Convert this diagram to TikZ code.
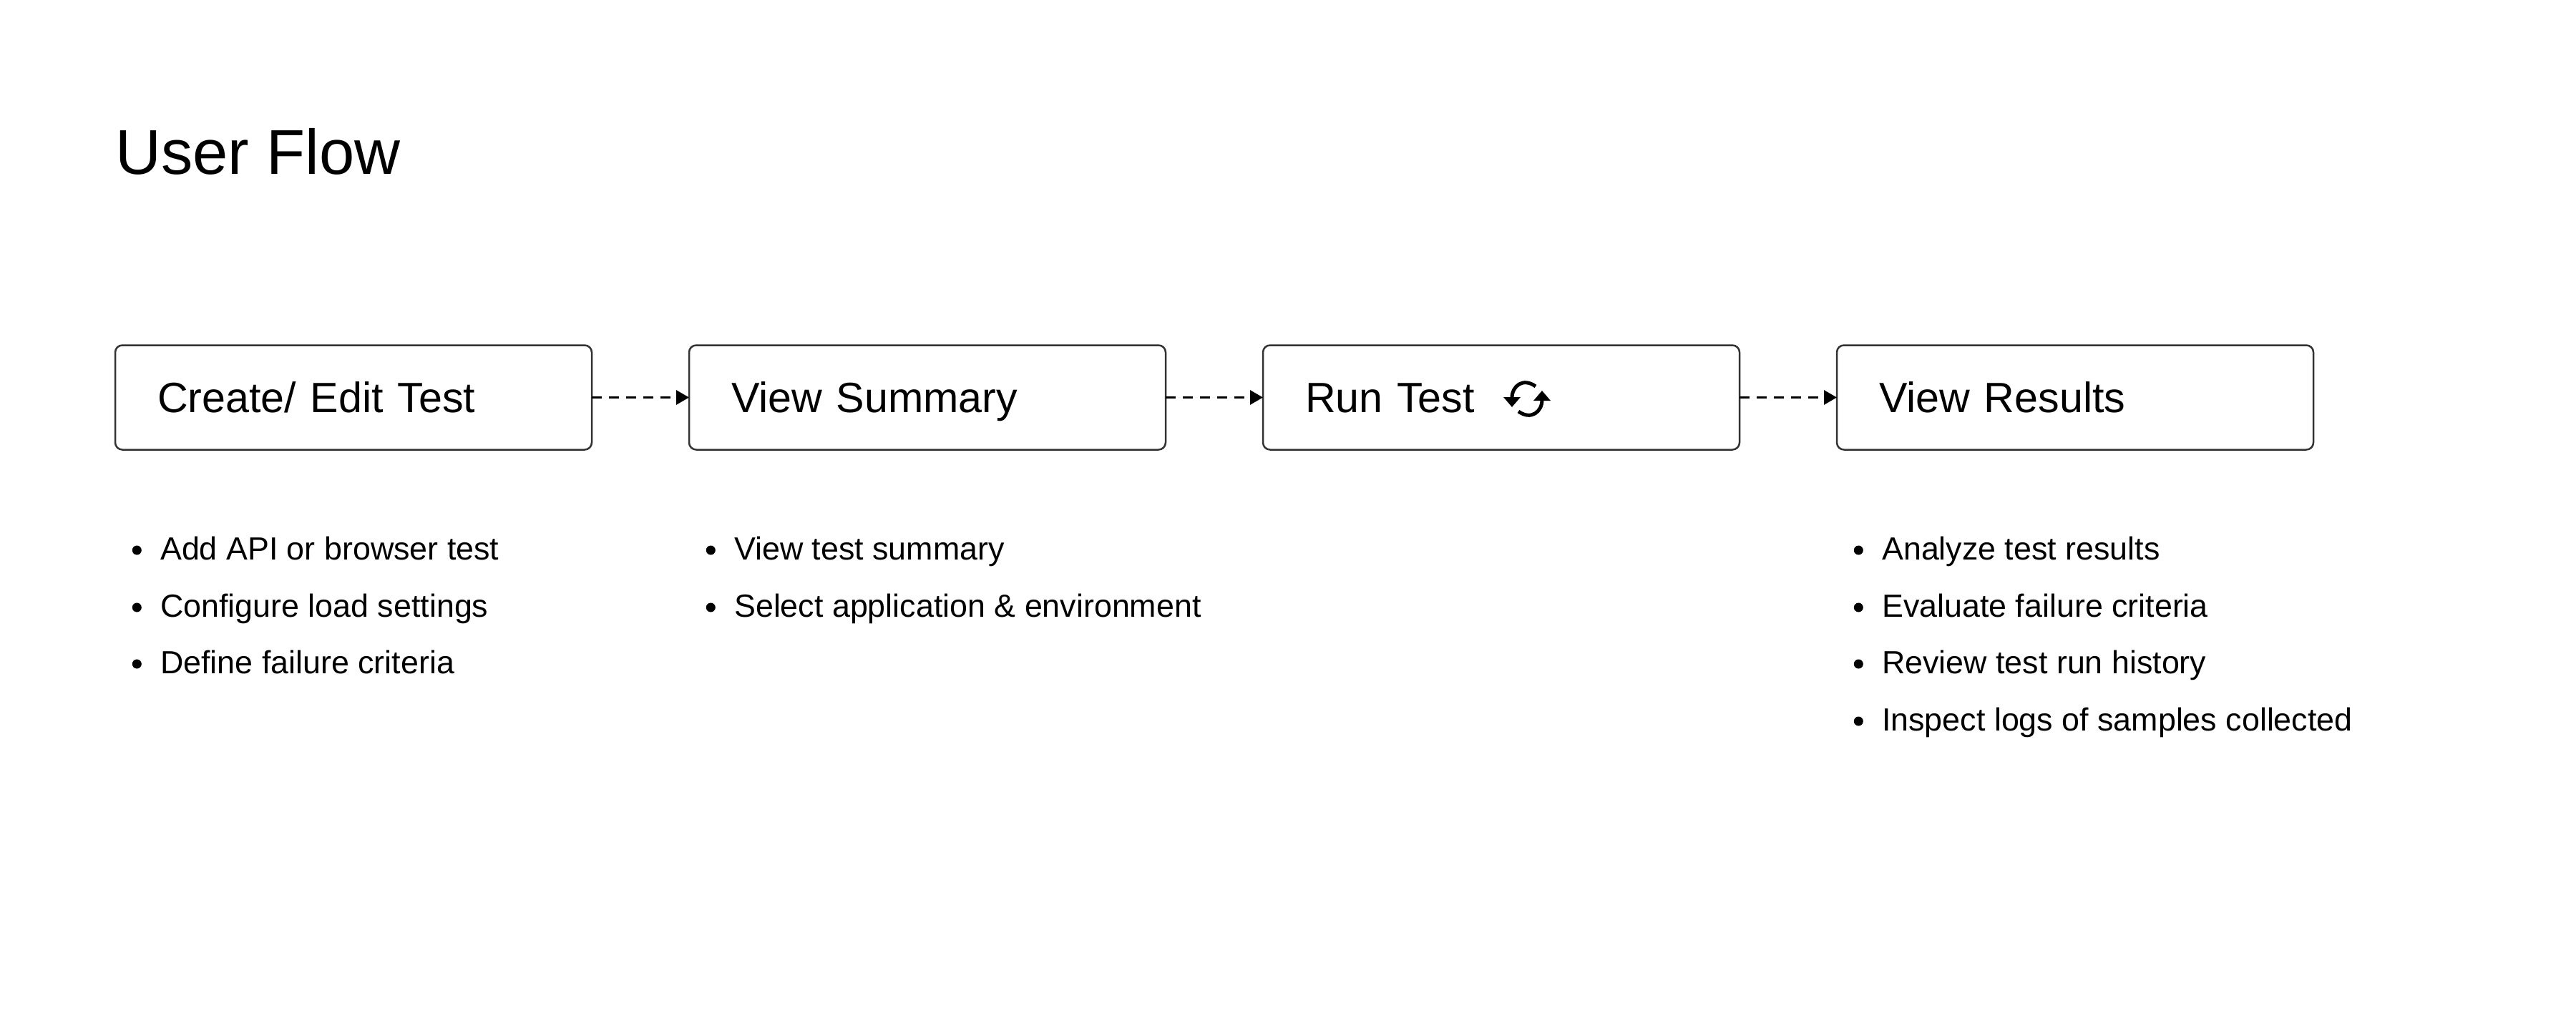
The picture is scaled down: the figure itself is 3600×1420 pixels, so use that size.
\documentclass[tikz,border=0pt]{standalone}
\usepackage{fontspec}
\usepackage{tikz}
\usepackage{xcolor}
\usetikzlibrary{arrows.meta,positioning}
\setmainfont{Liberation Sans}
\definecolor{Edge}{RGB}{51,51,51}
\tikzset{
  stage/.style={draw=Edge, line width=2.5pt, rounded corners=10pt, minimum width=666pt, minimum height=146pt,
    inner ysep=0pt, inner xsep=59pt, text width=548pt, align=left, outer sep=0pt, text height=41pt, text depth=0pt,
    font=\fontsize{59.2}{59.2}\selectfont},
  flow/.style={-{Triangle[length=18pt,width=20pt]}, line width=3pt, dash pattern=on 14pt off 10pt},
  spin/.style={-{Triangle[length=14pt,width=23pt]}, line width=5pt},
  item/.style={anchor=base west, inner sep=0pt, font=\fontsize{44.8}{44.8}\selectfont},
  dot/.style={circle, fill=black, inner sep=0pt, minimum size=13pt}
}
\begin{document}
\begin{tikzpicture}[x=1pt,y=-1pt]
  \useasboundingbox (0,0) rectangle (3600,1420);
  \node[anchor=base west, inner sep=0pt, font=\fontsize{88.5}{88.5}\selectfont] (title) at (161,244) {User Flow};
  % stages
  \foreach \i/\x/\t in {1/494/{Create/ Edit Test},2/1296/View Summary,3/2098/Run Test,4/2900/View Results} {
    \node[stage] (s\i) at (\x,555.5) {\t};
  }
  \draw[flow] (s1) -- (s2);
  \draw[flow] (s2) -- (s3);
  \draw[flow] (s3) -- (s4);
  % reload icon
  \coordinate (r1) at (2146,540);
  \coordinate (r2) at (2113,569);
  \coordinate (r3) at (2122,575);
  \coordinate (r4) at (2155,546);
  \draw[spin] (r1) .. controls (2128,527) and (2113,540) .. (r2);
  \draw[spin] (r3) .. controls (2140,588) and (2155,575) .. (r4);
  % lists
  \foreach \j/\y/\t in {1/782/Add API or browser test,2/862/Configure load settings,3/941/Define failure criteria} {
    \node[item] (a\j) at (224,\y) {\t};
    \node[dot, left=26pt of a\j.base west, yshift=13pt] (da\j) {};
  }
  \foreach \j/\y/\t in {1/782/View test summary,2/862/Select application \& environment} {
    \node[item] (b\j) at (1026,\y) {\t};
    \node[dot, left=26pt of b\j.base west, yshift=13pt] (db\j) {};
  }
  \foreach \j/\y/\t in {1/782/Analyze test results,2/862/Evaluate failure criteria,3/941/Review test run history,4/1021/Inspect logs of samples collected} {
    \node[item] (c\j) at (2630,\y) {\t};
    \node[dot, left=26pt of c\j.base west, yshift=13pt] (dc\j) {};
  }
\end{tikzpicture}
\end{document}
